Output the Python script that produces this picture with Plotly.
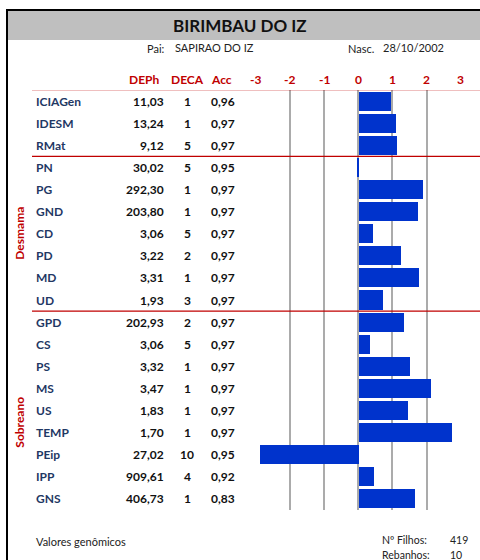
import plotly.graph_objects as go

# ---- data ----
traits = ["ICIAGen", "IDESM", "RMat", "PN", "PG", "GND", "CD", "PD", "MD", "UD",
          "GPD", "CS", "PS", "MS", "US", "TEMP", "PEip", "IPP", "GNS"]
deph = ["11,03", "13,24", "9,12", "30,02", "292,30", "203,80", "3,06", "3,22", "3,31", "1,93",
        "202,93", "3,06", "3,32", "3,47", "1,83", "1,70", "27,02", "909,61", "406,73"]
deca = ["1", "1", "5", "5", "1", "1", "5", "2", "1", "3",
        "2", "5", "1", "1", "1", "1", "10", "4", "1"]
acc = ["0,96", "0,97", "0,97", "0,95", "0,97", "0,97", "0,97", "0,97", "0,97", "0,97",
       "0,97", "0,97", "0,97", "0,97", "0,97", "0,97", "0,95", "0,92", "0,83"]
scores = [0.96, 1.10, 1.13, -0.05, 1.89, 1.75, 0.43, 1.25, 1.78, 0.72,
          1.34, 0.34, 1.51, 2.12, 1.45, 2.74, -2.87, 0.45, 1.65]
tick_vals = [-3, -2, -1, 0, 1, 2, 3]
tick_text = ["-3", "-2", "-1", "0", "1", "2", "3"]
col_headers = ["DEPh", "DECA", "Acc"]
title = "BIRIMBAU DO IZ"
pai = "SAPIRAO DO IZ"
nasc = "28/10/2002"
filhos = "419"
rebanhos = "10"

W, H = 480, 560
def px(x):
    return x / W
def py(y):
    return 1 - y / H

FONT = "Lato"
NAVY = "#1f3864"
RED = "#c00000"
TXT = "#222222"

fig = go.Figure()
fig.add_trace(go.Bar(
    x=scores, y=traits, orientation="h",
    marker=dict(color="#0033cc", line=dict(width=0)),
    width=0.86, hoverinfo="skip",
))

ann = []
def add(x, y, text, size, color, xanchor="center", xref="paper", yref="paper", **kw):
    ann.append(dict(x=x, y=y, xref=xref, yref=yref, text=text, showarrow=False,
                    font=dict(family=FONT, size=size, color=color),
                    xanchor=xanchor, yanchor="middle", **kw))

# title & header
add(px(240), py(25.5), "<b>%s</b>" % title, 17, "#111111")
add(px(167), py(48), "Pai:", 11, TXT, "right")
add(px(173), py(47), pai, 11, TXT, "left")
add(px(376), py(48), "Nasc.", 11, TXT, "right")
add(px(381), py(47), nasc, 11, TXT, "left")

# column headers
col_x = [144, 187, 221]
for cx, h in zip(col_x, col_headers):
    add(px(cx), py(80), "<b>%s</b>" % h, 12, RED)
# tick labels on top
for tv, tt in zip(tick_vals, tick_text):
    add(tv, py(80), "<b>%s</b>" % tt, 12, RED, xref="x")

# table rows
for t, d, c, a in zip(traits, deph, deca, acc):
    add(px(34), t, "<b>%s</b>" % t, 12, NAVY, "left", yref="y")
    add(px(166), t, "<b>%s</b>" % d, 12, "#111111", "right", yref="y")
    add(px(187), t, "<b>%s</b>" % c, 12, "#111111", "center", yref="y")
    add(px(209), t, "<b>%s</b>" % a, 12, "#111111", "left", yref="y")

# group labels
add(px(20), 6, "<b>Desmama</b>", 12, RED, yref="y", textangle=-90)
add(px(20), 14.55, "<b>Sobreano</b>", 12, RED, yref="y", textangle=-90)

# footer
add(px(34), py(541), "Valores genômicos", 11, TXT, "left")
add(px(380), py(540), "Nº Filhos:", 10.5, TXT, "left")
add(px(448), py(540), filhos, 10.5, TXT, "left")
add(px(380), py(555), "Rebanhos:", 10.5, TXT, "left")
add(px(448), py(555), rebanhos, 10.5, TXT, "left")

shapes = [
    # gray header band
    dict(type="rect", xref="paper", yref="paper", x0=px(8), x1=1, y0=py(40), y1=py(11),
         fillcolor="#bfbfbf", line=dict(width=0), layer="below"),
    # black frame top / left
    dict(type="line", xref="paper", yref="paper", x0=px(6), x1=1, y0=py(10), y1=py(10),
         line=dict(color="black", width=2)),
    dict(type="line", xref="paper", yref="paper", x0=px(7), x1=px(7), y0=py(9), y1=0,
         line=dict(color="black", width=2)),
    # red separators
    dict(type="line", xref="paper", yref="y", x0=px(32), x1=1, y0=-0.52, y1=-0.52,
         line=dict(color=RED, width=1.5)),
    dict(type="line", xref="paper", yref="y", x0=px(32), x1=1, y0=2.5, y1=2.5,
         line=dict(color=RED, width=1.2)),
    dict(type="line", xref="paper", yref="y", x0=px(32), x1=1, y0=9.5, y1=9.5,
         line=dict(color=RED, width=1.2)),
]

fig.update_layout(
    width=W, height=H, autosize=False,
    margin=dict(l=0, r=0, t=0, b=0),
    paper_bgcolor="white", plot_bgcolor="white",
    showlegend=False, bargap=0,
    xaxis=dict(range=[-3, 3], domain=[px(255.7), px(460.7)], tickvals=tick_vals,
               showticklabels=False, showgrid=True, gridcolor="#ababab", gridwidth=1.5,
               zeroline=True, zerolinecolor="#ababab", zerolinewidth=1.5,
               showline=False, fixedrange=True),
    yaxis=dict(categoryorder="array", categoryarray=traits, range=[18.5, -0.5],
               domain=[py(510), py(90)], showticklabels=False, showgrid=False,
               zeroline=False, showline=False, fixedrange=True),
    annotations=ann, shapes=shapes,
)

fig.write_html("out.html", config={"displayModeBar": False},
               post_script="document.body.style.margin='0';document.body.style.overflow='hidden';")
